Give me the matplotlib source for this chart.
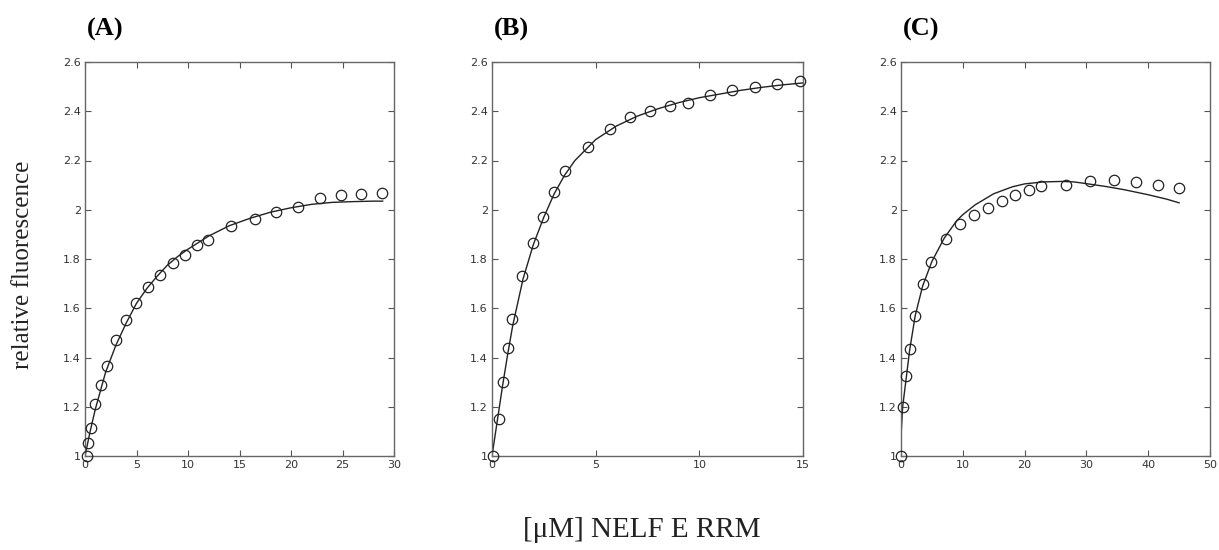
import matplotlib
matplotlib.use("Agg")
import matplotlib.pyplot as plt
from matplotlib.ticker import FuncFormatter

# ---------------- data ----------------
panel_labels = ["(A)", "(B)", "(C)"]

a_x = [0.16, 0.3, 0.55, 0.97, 1.52, 2.1, 3.0, 3.98, 4.95, 6.14, 7.27, 8.5, 9.7,
       10.83, 11.96, 14.22, 16.49, 18.59, 20.69, 22.79, 24.83, 26.83, 28.84]
a_y = [1.0, 1.051, 1.112, 1.21, 1.288, 1.365, 1.47, 1.554, 1.622, 1.687, 1.737,
       1.782, 1.818, 1.856, 1.879, 1.933, 1.964, 1.991, 2.012, 2.048, 2.059, 2.063, 2.069]
a_fit_x = [0, 0.5, 1, 2, 3, 4, 5, 6, 7, 8, 9, 10, 12, 14, 16, 18, 20, 22, 24, 26, 28, 28.9]
a_fit_y = [1.0, 1.10, 1.19, 1.34, 1.45, 1.54, 1.62, 1.68, 1.73, 1.775, 1.81, 1.84,
           1.893, 1.935, 1.965, 1.99, 2.008, 2.022, 2.03, 2.033, 2.035, 2.035]

b_x = [0.05, 0.32, 0.53, 0.77, 0.98, 1.46, 1.98, 2.46, 2.99, 3.54, 4.63, 5.68,
       6.67, 7.6, 8.57, 9.45, 10.5, 11.59, 12.67, 13.76, 14.84]
b_y = [1.0, 1.15, 1.30, 1.437, 1.556, 1.729, 1.865, 1.969, 2.071, 2.157, 2.256,
       2.329, 2.375, 2.40, 2.422, 2.432, 2.468, 2.486, 2.498, 2.509, 2.523]
b_fit_x = [0, 0.25, 0.5, 0.75, 1, 1.5, 2, 2.5, 3, 3.5, 4, 5, 6, 7, 8, 9, 10, 11,
           12, 13, 14, 15]
b_fit_y = [1.0, 1.14, 1.28, 1.41, 1.53, 1.72, 1.86, 1.97, 2.065, 2.14, 2.2, 2.285,
           2.34, 2.38, 2.41, 2.435, 2.455, 2.47, 2.485, 2.497, 2.507, 2.515]

c_x = [0.0, 0.27, 0.86, 1.4, 2.32, 3.56, 4.9, 7.22, 9.48, 11.85, 14.06, 16.33,
       18.48, 20.64, 22.63, 26.72, 30.6, 34.48, 38.04, 41.54, 45.04]
c_y = [1.0, 1.197, 1.323, 1.434, 1.57, 1.698, 1.788, 1.881, 1.942, 1.977, 2.006,
       2.037, 2.058, 2.08, 2.098, 2.102, 2.116, 2.12, 2.112, 2.101, 2.09]
c_fit_x = [0, 0.27, 0.86, 1.4, 2.3, 3.5, 5, 7, 9, 10, 12, 15, 18, 20, 23, 26, 28,
           30, 33, 36, 40, 43, 45]
c_fit_y = [1.08, 1.2, 1.32, 1.43, 1.57, 1.69, 1.79, 1.885, 1.955, 1.98, 2.02, 2.065,
           2.093, 2.105, 2.113, 2.115, 2.113, 2.106, 2.095, 2.082, 2.061, 2.043, 2.028]

x_limits = [(0, 30), (0, 15), (0, 50)]
x_ticks = [[0, 5, 10, 15, 20, 25, 30], [0, 5, 10, 15], [0, 10, 20, 30, 40, 50]]
y_ticks = [1.0, 1.2, 1.4, 1.6, 1.8, 2.0, 2.2, 2.4, 2.6]

ylabel = "relative fluorescence"
xlabel = "[\u03bcM] NELF E RRM"

# ---------------- figure ----------------
fig = plt.figure(figsize=(12.19, 5.5), dpi=100)

W, H = 1219, 550
boxes = [(85, 394), (492, 803), (901, 1210)]
top_px, bot_px = 62, 456

series = [(a_x, a_y, a_fit_x, a_fit_y), (b_x, b_y, b_fit_x, b_fit_y),
          (c_x, c_y, c_fit_x, c_fit_y)]

gray = "#555555"
for i, (l, r) in enumerate(boxes):
    ax = fig.add_axes([l / W, (H - bot_px) / H, (r - l) / W, (bot_px - top_px) / H])
    px, py, fx, fy = series[i]
    ax.plot(fx, fy, color="#222222", lw=1.0, zorder=2)
    ax.plot(px, py, linestyle="none", marker="o", markersize=7.5,
            markerfacecolor="none", markeredgecolor="#222222", markeredgewidth=0.9,
            zorder=3, clip_on=False)
    ax.set_xlim(*x_limits[i])
    ax.set_ylim(1.0, 2.6)
    ax.set_xticks(x_ticks[i])
    ax.set_yticks(y_ticks)
    ax.yaxis.set_major_formatter(FuncFormatter(lambda v, p: f"{v:g}"))
    ax.tick_params(direction="in", top=True, right=True, length=4, width=0.8,
                   colors=gray, labelsize=8, pad=3)
    for lab in ax.get_xticklabels() + ax.get_yticklabels():
        lab.set_color("#333333")
    for s in ax.spines.values():
        s.set_color("#666666")
        s.set_linewidth(1.0)
    fig.text((l + 2) / W, 1 - 29 / H, panel_labels[i], fontsize=19,
             fontweight="bold", family="Liberation Serif", va="center", ha="left")

fig.text(23 / W, 1 - 265 / H, ylabel, rotation=90, fontsize=18,
         family="Liberation Serif", va="center", ha="center", color="#222222")
fig.text(642 / W, 1 - 530 / H, xlabel, fontsize=21, family="Liberation Serif",
         va="center", ha="center", color="#222222")

fig.savefig("out.png", dpi=100)
